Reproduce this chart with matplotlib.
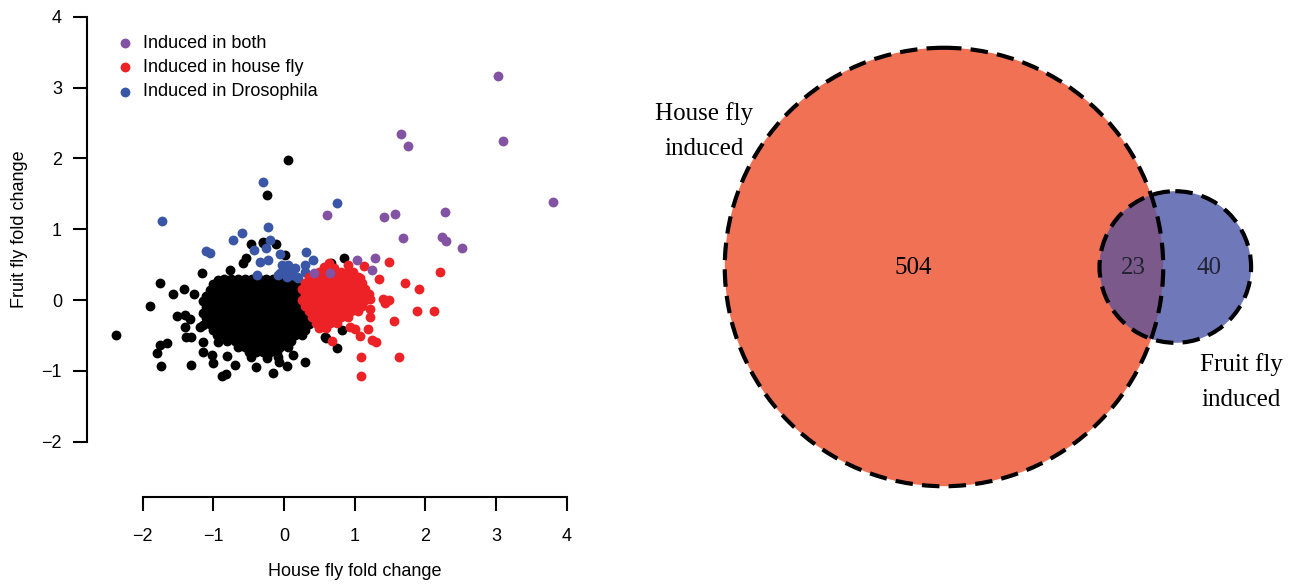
import numpy as np
import matplotlib
matplotlib.use("Agg")
import matplotlib.pyplot as plt
from matplotlib.patches import Circle

# fold changes (house fly, fruit fly) for each gene group
both_pts = [(3.02, 3.16), (1.66, 2.35), (1.75, 2.18), (3.09, 2.24), (3.81, 1.38),
            (1.42, 1.17), (1.57, 1.21), (2.27, 1.25), (0.61, 1.20), (1.68, 0.87),
            (2.23, 0.89), (2.29, 0.84), (2.52, 0.74), (1.03, 0.57), (1.28, 0.60),
            (1.24, 0.42), (0.42, 0.38), (0.65, 0.38)]

dros_pts = [(-0.29, 1.66), (0.75, 1.37), (-1.72, 1.12), (-0.23, 1.03), (-0.60, 0.94),
            (-0.72, 0.85), (-0.20, 0.85), (-0.42, 0.70), (-0.26, 0.73), (-1.10, 0.69),
            (-1.05, 0.66), (0.31, 0.68), (-0.06, 0.65), (0.41, 0.56), (-0.34, 0.53),
            (-0.22, 0.56), (-0.38, 0.36), (-0.03, 0.49), (0.06, 0.49), (-0.08, 0.35),
            (0.04, 0.33), (0.20, 0.31), (0.30, 0.40), (0.08, 0.42), (0.12, 0.36),
            (-0.01, 0.40), (-0.06, 0.38), (0.18, 0.33), (0.30, 0.49), (0.15, 0.45)]

house_pts = [(1.49, 0.54), (2.20, 0.40), (1.13, 0.48), (1.35, 0.29), (1.71, 0.24),
             (1.91, 0.15), (1.40, 0.02), (1.49, 0.00), (1.43, -0.04), (1.88, -0.16),
             (2.12, -0.16), (1.56, -0.30), (1.22, -0.13), (1.21, -0.24), (1.19, -0.41),
             (1.07, -0.51), (1.24, -0.56), (1.30, -0.59), (0.93, -0.38), (1.00, -0.41),
             (0.68, -0.58), (1.09, -0.80), (1.63, -0.81), (1.09, -1.08), (1.07, 0.31),
             (1.10, 0.19), (1.22, 0.02), (0.98, 0.39), (0.56, 0.47), (0.84, 0.35),
             (0.90, 0.50), (0.70, 0.45), (0.64, 0.52),
             # dense part of the house fly group
             (0.50, 0.40), (0.60, 0.40), (0.70, 0.40), (0.80, 0.40), (0.90, 0.40),
             (0.35, 0.32), (0.45, 0.32), (0.55, 0.32), (0.65, 0.32), (0.75, 0.32),
             (0.85, 0.32), (0.95, 0.32), (1.05, 0.32),
             (0.30, 0.24), (0.40, 0.24), (0.50, 0.24), (0.60, 0.24), (0.70, 0.24),
             (0.80, 0.24), (0.90, 0.24), (1.00, 0.24), (1.10, 0.24),
             (0.25, 0.16), (0.35, 0.16), (0.45, 0.16), (0.55, 0.16), (0.65, 0.16),
             (0.75, 0.16), (0.85, 0.16), (0.95, 0.16), (1.05, 0.16), (1.15, 0.16),
             (0.30, 0.08), (0.40, 0.08), (0.50, 0.08), (0.60, 0.08), (0.70, 0.08),
             (0.80, 0.08), (0.90, 0.08), (1.00, 0.08), (1.10, 0.08), (1.20, 0.08),
             (0.25, 0.00), (0.35, 0.00), (0.45, 0.00), (0.55, 0.00), (0.65, 0.00),
             (0.75, 0.00), (0.85, 0.00), (0.95, 0.00), (1.05, 0.00), (1.15, 0.00),
             (0.30, -0.08), (0.40, -0.08), (0.50, -0.08), (0.60, -0.08), (0.70, -0.08),
             (0.80, -0.08), (0.90, -0.08), (1.00, -0.08), (1.10, -0.08),
             (0.35, -0.16), (0.45, -0.16), (0.55, -0.16), (0.65, -0.16), (0.75, -0.16),
             (0.85, -0.16), (0.95, -0.16), (1.05, -0.16),
             (0.40, -0.24), (0.50, -0.24), (0.60, -0.24), (0.70, -0.24), (0.80, -0.24),
             (0.90, -0.24),
             (0.45, -0.32), (0.55, -0.32), (0.65, -0.32), (0.75, -0.32),
             (0.50, -0.40), (0.60, -0.40)]

other_pts = [(0.06, 1.98), (-0.24, 1.48), (-0.46, 0.79), (-0.29, 0.81), (-0.11, 0.79),
             (-0.54, 0.60), (0.01, 0.64), (0.85, 0.60), (-0.58, 0.52), (0.67, 0.52),
             (-2.37, -0.50), (-1.90, -0.09), (-1.76, 0.24), (-1.57, 0.08), (-1.41, 0.15),
             (-1.27, 0.08), (-1.16, 0.38), (-0.94, 0.28), (-0.76, 0.42), (-1.52, -0.22),
             (-1.40, -0.21), (-1.33, -0.27), (-1.19, -0.38), (-1.40, -0.38), (-1.38, -0.52),
             (-1.31, -0.52), (-1.14, -0.35), (-1.75, -0.64), (-1.66, -0.61), (-1.79, -0.75),
             (-1.74, -0.93), (-1.32, -0.92), (-1.15, -0.59), (-1.14, -0.74), (-1.02, -0.78),
             (-1.01, -0.89), (-0.81, -0.79), (-0.87, -1.08), (-0.82, -1.04), (-0.98, -0.42),
             (-0.93, -0.59), (-1.05, -0.17), (-0.69, -0.92), (-0.39, -0.94), (-0.15, -1.03),
             (0.04, -0.93), (0.30, -0.87), (-0.08, -0.80), (-0.07, -0.87), (-0.46, -0.80),
             (-0.24, -0.82), (0.13, -0.78), (0.75, -0.68), (0.60, -0.54), (0.82, -0.42),
             (0.58, -0.52), (-0.30, 0.82),
             # dense centre of the unchanged genes
             (-0.85, 0.30), (-0.75, 0.30), (-0.65, 0.30), (-0.55, 0.30), (-0.45, 0.30),
             (-0.35, 0.30), (-0.25, 0.30), (-0.15, 0.30), (-0.05, 0.30),
             (-1.00, 0.22), (-0.90, 0.22), (-0.80, 0.22), (-0.70, 0.22), (-0.60, 0.22),
             (-0.50, 0.22), (-0.40, 0.22), (-0.30, 0.22), (-0.20, 0.22), (-0.10, 0.22),
             (0.00, 0.22), (0.10, 0.22), (0.20, 0.22),
             (-1.05, 0.14), (-0.95, 0.14), (-0.85, 0.14), (-0.75, 0.14), (-0.65, 0.14),
             (-0.55, 0.14), (-0.45, 0.14), (-0.35, 0.14), (-0.25, 0.14), (-0.15, 0.14),
             (-0.05, 0.14), (0.05, 0.14), (0.15, 0.14), (0.25, 0.14),
             (-1.10, 0.06), (-1.00, 0.06), (-0.90, 0.06), (-0.80, 0.06), (-0.70, 0.06),
             (-0.60, 0.06), (-0.50, 0.06), (-0.40, 0.06), (-0.30, 0.06), (-0.20, 0.06),
             (-0.10, 0.06), (0.00, 0.06), (0.10, 0.06), (0.20, 0.06), (0.30, 0.06),
             (-1.15, -0.02), (-1.05, -0.02), (-0.95, -0.02), (-0.85, -0.02), (-0.75, -0.02),
             (-0.65, -0.02), (-0.55, -0.02), (-0.45, -0.02), (-0.35, -0.02), (-0.25, -0.02),
             (-0.15, -0.02), (-0.05, -0.02), (0.05, -0.02), (0.15, -0.02), (0.25, -0.02),
             (-1.10, -0.10), (-1.00, -0.10), (-0.90, -0.10), (-0.80, -0.10), (-0.70, -0.10),
             (-0.60, -0.10), (-0.50, -0.10), (-0.40, -0.10), (-0.30, -0.10), (-0.20, -0.10),
             (-0.10, -0.10), (0.00, -0.10), (0.10, -0.10), (0.20, -0.10), (0.30, -0.10),
             (-1.15, -0.18), (-1.05, -0.18), (-0.95, -0.18), (-0.85, -0.18), (-0.75, -0.18),
             (-0.65, -0.18), (-0.55, -0.18), (-0.45, -0.18), (-0.35, -0.18), (-0.25, -0.18),
             (-0.15, -0.18), (-0.05, -0.18), (0.05, -0.18), (0.15, -0.18), (0.25, -0.18),
             (-1.10, -0.26), (-1.00, -0.26), (-0.90, -0.26), (-0.80, -0.26), (-0.70, -0.26),
             (-0.60, -0.26), (-0.50, -0.26), (-0.40, -0.26), (-0.30, -0.26), (-0.20, -0.26),
             (-0.10, -0.26), (0.00, -0.26), (0.10, -0.26), (0.20, -0.26), (0.30, -0.26),
             (-1.05, -0.34), (-0.95, -0.34), (-0.85, -0.34), (-0.75, -0.34), (-0.65, -0.34),
             (-0.55, -0.34), (-0.45, -0.34), (-0.35, -0.34), (-0.25, -0.34), (-0.15, -0.34),
             (-0.05, -0.34), (0.05, -0.34), (0.15, -0.34), (0.25, -0.34), (0.35, -0.34),
             (-1.00, -0.42), (-0.90, -0.42), (-0.80, -0.42), (-0.70, -0.42), (-0.60, -0.42),
             (-0.50, -0.42), (-0.40, -0.42), (-0.30, -0.42), (-0.20, -0.42), (-0.10, -0.42),
             (0.00, -0.42), (0.10, -0.42), (0.20, -0.42), (0.30, -0.42),
             (-0.95, -0.50), (-0.85, -0.50), (-0.75, -0.50), (-0.65, -0.50), (-0.55, -0.50),
             (-0.45, -0.50), (-0.35, -0.50), (-0.25, -0.50), (-0.15, -0.50), (-0.05, -0.50),
             (0.05, -0.50), (0.15, -0.50), (0.25, -0.50),
             (-0.80, -0.58), (-0.70, -0.58), (-0.60, -0.58), (-0.50, -0.58), (-0.40, -0.58),
             (-0.30, -0.58), (-0.20, -0.58), (-0.10, -0.58), (0.00, -0.58), (0.10, -0.58),
             (-0.65, -0.66), (-0.55, -0.66), (-0.45, -0.66), (-0.35, -0.66), (-0.25, -0.66),
             (-0.15, -0.66), (-0.05, -0.66), (0.05, -0.66),
             (-0.50, -0.74), (-0.40, -0.74), (-0.30, -0.74), (-0.20, -0.74), (-0.10, -0.74)]

# venn counts
house_only = 504
shared = 23
fruit_only = 40

col_both = "#8352A3"
col_house = "#EC2227"
col_dros = "#3A56A6"

fig = plt.figure(figsize=(12.91, 5.84), dpi=100)

# ---- venn diagram (drawn in pixel units) ----
vax = fig.add_axes([0, 0, 1, 1])
vax.set_xlim(0, 1291)
vax.set_ylim(584, 0)
vax.axis("off")

k = 9.55  # px per sqrt(gene)
r1 = k * np.sqrt(house_only + shared)
r2 = k * np.sqrt(fruit_only + shared)
target = np.pi * k ** 2 * shared


def lens_area(d, a, b):
    t1 = a ** 2 * np.arccos((d ** 2 + a ** 2 - b ** 2) / (2 * d * a))
    t2 = b ** 2 * np.arccos((d ** 2 + b ** 2 - a ** 2) / (2 * d * b))
    t3 = 0.5 * np.sqrt((-d + a + b) * (d + a - b) * (d - a + b) * (d + a + b))
    return t1 + t2 - t3


lo, hi = r1 - r2 + 1e-6, r1 + r2 - 1e-6
for _ in range(60):
    mid = (lo + hi) / 2
    if lens_area(mid, r1, r2) > target:
        lo = mid
    else:
        hi = mid
dist = (lo + hi) / 2

cx1, cy = 944, 267
cx2 = cx1 + dist

big = Circle((cx1, cy), r1, facecolor="#F17155", edgecolor="none")
small = Circle((cx2, cy), r2, facecolor="#6F79B9", edgecolor="none")
vax.add_patch(big)
vax.add_patch(small)
lens = Circle((cx2, cy), r2, facecolor="#7B5A8B", edgecolor="none")
vax.add_patch(lens)
lens.set_clip_path(big)
for c in [(cx1, r1), (cx2, r2)]:
    vax.add_patch(Circle((c[0], cy), c[1], facecolor="none", edgecolor="black",
                         lw=3.0, linestyle=(0, (4.2, 2.2))))

serif = "Liberation Serif"
vax.text(cx1 - 31, cy + 1, str(house_only), ha="center", va="center",
         fontsize=18, family=serif)
vax.text(cx2 - 42, cy + 1, str(shared), ha="center", va="center",
         fontsize=18, family=serif, color="#222233")
vax.text(cx2 + 34, cy + 1, str(fruit_only), ha="center", va="center",
         fontsize=18, family=serif, color="#222233")
vax.text(704, 131, "House fly\ninduced", ha="center", va="center",
         fontsize=18, family=serif, linespacing=1.8)
vax.text(1241, 382, "Fruit fly\ninduced", ha="center", va="center",
         fontsize=18, family=serif, linespacing=1.8)

# ---- scatter of fold changes ----
ax = fig.add_axes([87 / 1291, 87 / 584, 494 / 1291, 487 / 584])
ax.patch.set_visible(False)
s = 50
ox, oy = zip(*other_pts)
ax.scatter(ox, oy, s=s, c="black", lw=0)
dx, dy = zip(*dros_pts)
h_dros = ax.scatter(dx, dy, s=s, c=col_dros, lw=0, label="Induced in Drosophila")
hx, hy = zip(*house_pts)
h_house = ax.scatter(hx, hy, s=s, c=col_house, lw=0, label="Induced in house fly")
bx, by = zip(*both_pts)
h_both = ax.scatter(bx, by, s=s, c=col_both, lw=0, label="Induced in both")

ax.set_xlim(-2.786, 4.2)
ax.set_ylim(-2.782, 4.096)
ax.set_xticks(range(-2, 5))
ax.set_yticks(range(-2, 5))
for sp in ["top", "right"]:
    ax.spines[sp].set_visible(False)
for sp in ["left", "bottom"]:
    ax.spines[sp].set_bounds(-2, 4)
    ax.spines[sp].set_linewidth(1.5)
ax.tick_params(length=10, width=1.5, labelsize=13)
ax.tick_params(axis="x", pad=12)
ax.tick_params(axis="y", pad=8)
for lab in ax.get_xticklabels() + ax.get_yticklabels():
    lab.set_family("Liberation Sans")

ax.text(1, -0.154, "House fly fold change", transform=ax.get_xaxis_transform(),
        ha="center", va="center", fontsize=13, family="Liberation Sans")
ax.text(-0.136, 1, "Fruit fly fold change", transform=ax.get_yaxis_transform(),
        ha="center", va="center", rotation=90, fontsize=13, family="Liberation Sans")

ax.legend(handles=[h_both, h_house, h_dros], loc="upper left",
          bbox_to_anchor=(0.059, 0.949), frameon=False, borderpad=0,
          borderaxespad=0, handlelength=1.0, handletextpad=0.5, labelspacing=0.4,
          prop={"family": "Liberation Sans", "size": 13})

fig.savefig("out.png", dpi=100)
